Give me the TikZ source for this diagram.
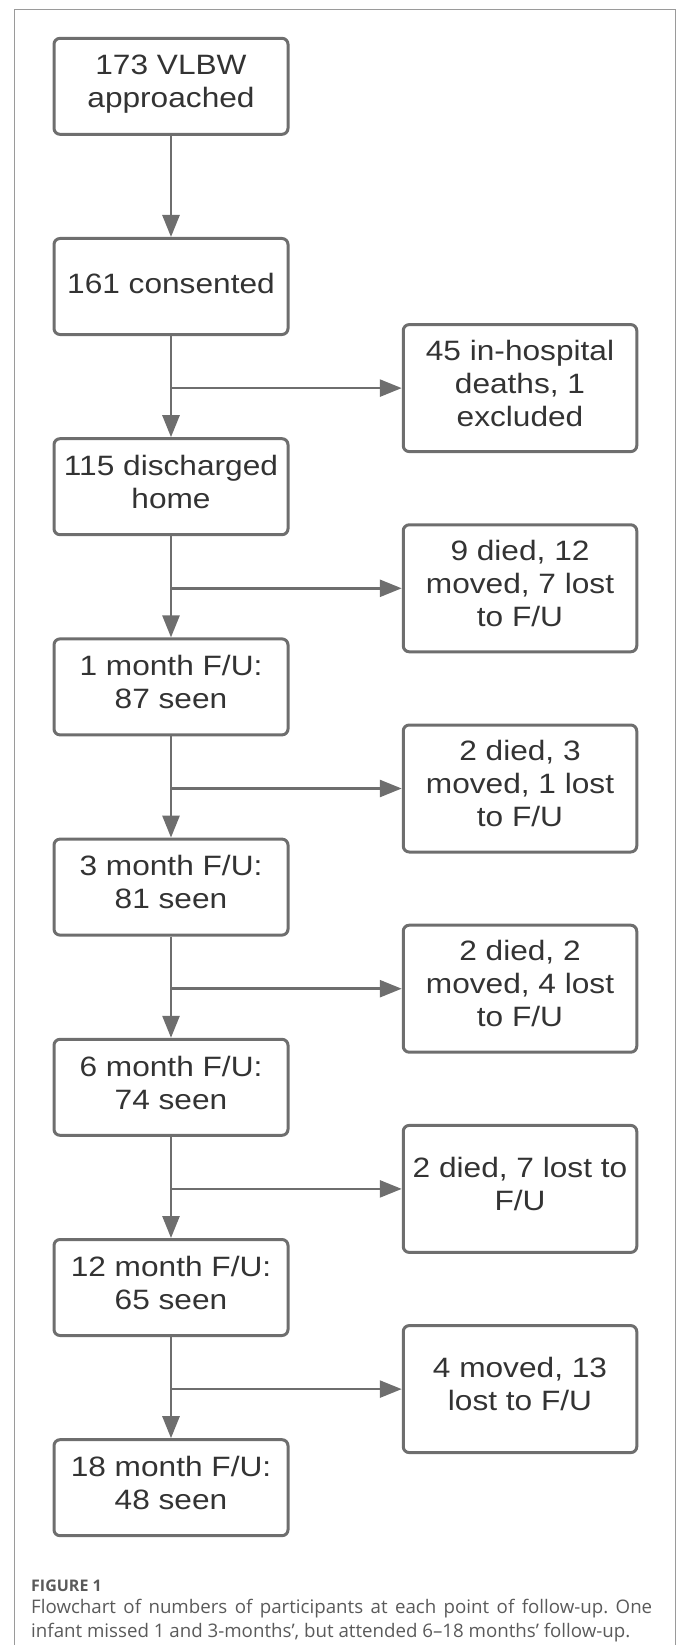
\documentclass[tikz,border=0pt]{standalone}
\usepackage{fontspec}
\usetikzlibrary{arrows.meta}
\newfontfamily\flowfont[FakeStretch=1.13]{Liberation Sans}
\newfontfamily\capfont{Open Sans}
\definecolor{linegray}{HTML}{6E6E6E}
\definecolor{textgray}{HTML}{333333}
\definecolor{framegray}{HTML}{9A9A9A}
\definecolor{capgray}{HTML}{5A5A5A}
\frenchspacing
\tikzset{
  flowbox/.style={draw=linegray, line width=3pt, rounded corners=6pt, align=center,
    text=textgray, font=\flowfont\fontsize{28}{33}\selectfont, inner sep=0pt,
    execute at begin node=\strut, execute at end node=\strut},
  mainbox/.style={flowbox, minimum width=234pt, minimum height=96pt},
  sidebox/.style={flowbox, minimum width=233.5pt, minimum height=127pt},
  arr/.style={draw=linegray, line width=2.7pt, -{Triangle[length=22pt,width=17pt]}},
  captext/.style={anchor=base west, inner sep=0pt, text=capgray}
}
\begin{document}
\begin{tikzpicture}[x=1pt,y=-1pt]
                \useasboundingbox (0,0) rectangle (678,1645);

                % 外枠(下は開いたまま)
                \draw[framegray, line width=1pt] (14,1645) |- (675.3,9.5) -- (675.3,1645);

                % 左の列のボックス(8個)
                \foreach \i/\t in {1/{173 VLBW\\approached}, 2/{161 consented},
                    3/{115 discharged\\home}, 4/{1 month F/U:\\87 seen},
                    5/{3 month F/U:\\81 seen}, 6/{6 month F/U:\\74 seen},
                    7/{12 month F/U:\\65 seen}, 8/{18 month F/U:\\48 seen}}
                    \node[mainbox] (m\i) at (171,{86.3+200.2*(\i-1)}) {\t};

                % 右の列のボックス(脱落数)
                \foreach \i/\t in {2/{45 in-hospital\\deaths, 1\\excluded},
                    3/{9 died, 12\\moved, 7 lost\\to F/U},
                    4/{2 died, 3\\moved, 1 lost\\to F/U},
                    5/{2 died, 2\\moved, 4 lost\\to F/U},
                    6/{2 died, 7 lost to\\F/U},
                    7/{4 moved, 13\\lost to F/U}}
                    \node[sidebox] (s\i) at (520,{187.9+200.2*(\i-1)}) {\t};

                % 縦の矢印
                \foreach \i in {1,...,7}{
                    \pgfmathtruncatemacro{\k}{\i+1}
                    \draw[arr] (m\i) -- (m\k);
                }

                % 分岐点から右への矢印
                \foreach \i in {2,...,7}{
                    \coordinate (b\i) at (m\i.south |- s\i.west);
                    \draw[arr] (b\i) -- (s\i);
                }

                % キャプション
                \node[captext, font=\capfont\bfseries\fontsize{16}{18}\selectfont] (figlab)
                    at (31,1591) {FIGURE 1};
                \node[captext, font=\capfont\fontsize{18.7}{22}\selectfont] (cap1) at (31,1613)
                    {\makebox[621pt][s]{Flowchart of numbers of participants at each point of follow-up. One}};
                \node[captext, font=\capfont\fontsize{18.7}{22}\selectfont] (cap2) at (31,1637)
                    {infant missed 1 and 3-months’, but attended 6–18 months’ follow-up.};
            \end{tikzpicture}
\end{document}
